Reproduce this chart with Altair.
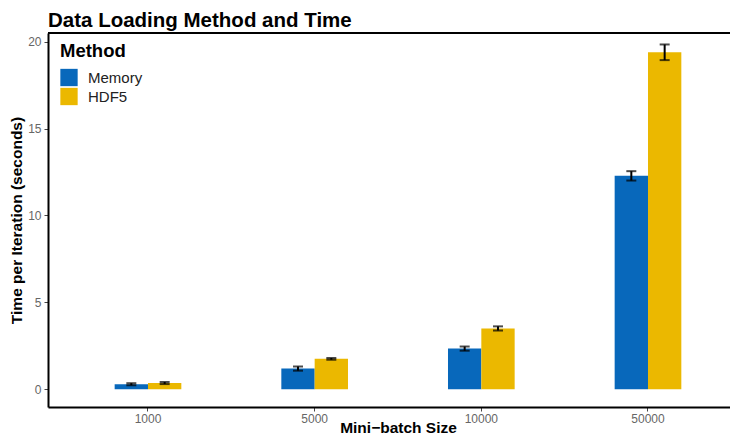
import altair as alt
import pandas as pd

batch = ["1000", "5000", "10000", "50000"]
methods = ["Memory", "HDF5"]
mem_time = [0.29, 1.19, 2.34, 12.28]
hdf_time = [0.36, 1.75, 3.50, 19.39]
mem_err = [0.06, 0.12, 0.12, 0.27]
hdf_err = [0.06, 0.05, 0.12, 0.45]
colors = ["#0868BB", "#EBB800"]

rows = []
for i, b in enumerate(batch):
    rows.append({"batch": b, "method": "Memory", "time": mem_time[i],
                 "lo": mem_time[i] - mem_err[i], "hi": mem_time[i] + mem_err[i]})
    rows.append({"batch": b, "method": "HDF5", "time": hdf_time[i],
                 "lo": hdf_time[i] - hdf_err[i], "hi": hdf_time[i] + hdf_err[i]})
df = pd.DataFrame(rows)

W, H = 682, 374
FONT = "Liberation Sans"

x_scale = alt.Scale(paddingInner=0.6, paddingOuter=0.346, align=0.578)
x_enc = alt.X("batch:N", sort=batch, scale=x_scale,
              axis=alt.Axis(title="Mini\u2212batch Size", labelAngle=0, labelFontSize=12,
                            labelColor="#666666", tickColor="#444444", tickSize=4,
                            domainColor="black", domainWidth=2, titleFontSize=15.5,
                            titleFontWeight="bold", titleColor="black",
                            titleBaseline="alphabetic", titleY=25.5,
                            labelPadding=2, titleX=350))
xo = alt.XOffset("method:N", sort=methods,
                 scale=alt.Scale(paddingInner=0, paddingOuter=0))
y_scale = alt.Scale(domain=[-1.02, 20.5], zero=False, nice=False)

bars = alt.Chart(df).mark_bar(stroke=None).encode(
    x=x_enc,
    xOffset=xo,
    y=alt.Y("time:Q", scale=y_scale,
            axis=alt.Axis(title="Time per Iteration (seconds)", values=[0, 5, 10, 15, 20],
                          labelFontSize=12, labelColor="#666666", tickColor="#444444",
                          tickSize=4, domainColor="black", domainWidth=2, grid=False,
                          titleFontSize=15.5, titleFontWeight="bold", titleColor="black",
                          titlePadding=3, labelPadding=3)),
    y2=alt.datum(0),
    color=alt.Color("method:N", sort=methods,
                    scale=alt.Scale(domain=methods, range=colors),
                    legend=alt.Legend(title="Method", orient="none", legendX=12, legendY=9,
                                      titleFontSize=18.5, titleFontWeight="bold",
                                      titleColor="black", labelFontSize=15,
                                      labelColor="#222222", symbolType="square",
                                      symbolSize=300, symbolStrokeWidth=0,
                                      symbolOpacity=1, rowPadding=1, titlePadding=8,
                                      labelOffset=10)),
)

rules = alt.Chart(df).mark_rule(color="black", strokeWidth=2).encode(
    x=alt.X("batch:N", sort=batch, scale=x_scale), xOffset=xo,
    y=alt.Y("lo:Q", scale=y_scale), y2="hi:Q")
cap_hi = alt.Chart(df).mark_tick(color="black", thickness=2, size=10, orient="horizontal").encode(
    x=alt.X("batch:N", sort=batch, scale=x_scale), xOffset=xo, y=alt.Y("hi:Q", scale=y_scale))
cap_lo = alt.Chart(df).mark_tick(color="black", thickness=2, size=10, orient="horizontal").encode(
    x=alt.X("batch:N", sort=batch, scale=x_scale), xOffset=xo, y=alt.Y("lo:Q", scale=y_scale))

top_border = alt.Chart(df).mark_rule(color="black", strokeWidth=2).encode(
    x=alt.value(0), x2=alt.value(W), y=alt.value(0))

chart = alt.layer(bars, rules, cap_hi, cap_lo, top_border).properties(
    width=W, height=H,
    autosize=alt.AutoSizeParams(type="none"),
    padding={"left": 40, "top": 25, "right": 0, "bottom": 29},
    title=alt.Title("Data Loading Method and Time", anchor="start", frame="group", dx=0,
                    fontSize=20.5, fontWeight="bold", color="black", offset=1),
).configure(font=FONT).configure_view(stroke=None)

chart.save("out.html", embed_options={"renderer": "svg", "actions": False})
